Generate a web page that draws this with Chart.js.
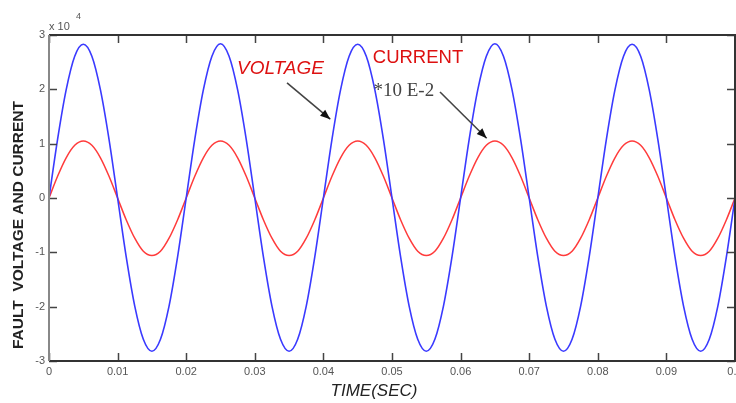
<!DOCTYPE html>
<html>
<head>
<meta charset="utf-8">
<script src="https://cdn.jsdelivr.net/npm/chart.js@4/dist/chart.umd.min.js"></script>
<style>
html,body{margin:0;padding:0;background:#fff;overflow:hidden;}
#c{display:block;}
</style>
</head>
<body>
<canvas id="c" width="736" height="403"></canvas>
<script>
// time (s)
const timeSec = [
 0, 0.00125, 0.0025, 0.00375, 0.005, 0.00625, 0.0075, 0.00875,
 0.01, 0.01125, 0.0125, 0.01375, 0.015, 0.01625, 0.0175, 0.01875,
 0.02, 0.02125, 0.0225, 0.02375, 0.025, 0.02625, 0.0275, 0.02875,
 0.03, 0.03125, 0.0325, 0.03375, 0.035, 0.03625, 0.0375, 0.03875,
 0.04, 0.04125, 0.0425, 0.04375, 0.045, 0.04625, 0.0475, 0.04875,
 0.05, 0.05125, 0.0525, 0.05375, 0.055, 0.05625, 0.0575, 0.05875,
 0.06, 0.06125, 0.0625, 0.06375, 0.065, 0.06625, 0.0675, 0.06875,
 0.07, 0.07125, 0.0725, 0.07375, 0.075, 0.07625, 0.0775, 0.07875,
 0.08, 0.08125, 0.0825, 0.08375, 0.085, 0.08625, 0.0875, 0.08875,
 0.09, 0.09125, 0.0925, 0.09375, 0.095, 0.09625, 0.0975, 0.09875,
 0.1
];
// fault voltage (x10^4)
const voltage = [
 0, 1.08, 1.99, 2.61, 2.83, 2.61, 1.99, 1.08, 0, -1.08, -1.99, -2.60, -2.82, -2.60, -1.99, -1.08,
 0, 1.08, 1.99, 2.61, 2.84, 2.61, 1.99, 1.08, 0, -1.08, -1.99, -2.60, -2.82, -2.60, -1.99, -1.08,
 0, 1.08, 1.99, 2.61, 2.83, 2.61, 1.99, 1.08, 0, -1.08, -1.99, -2.60, -2.82, -2.60, -1.99, -1.08,
 0, 1.08, 1.99, 2.61, 2.84, 2.61, 1.99, 1.08, 0, -1.08, -1.99, -2.60, -2.82, -2.60, -1.99, -1.08,
 0, 1.08, 1.99, 2.61, 2.83, 2.61, 1.99, 1.08, 0, -1.08, -1.99, -2.60, -2.82, -2.60, -1.99, -1.08,
 0
];
// fault current (x10^4, shown *10E-2)
const current = [
 0, 0.40, 0.74, 0.97, 1.05, 0.97, 0.74, 0.40, 0, -0.40, -0.74, -0.98, -1.06, -0.98, -0.74, -0.40,
 0, 0.40, 0.74, 0.97, 1.05, 0.97, 0.74, 0.40, 0, -0.40, -0.74, -0.98, -1.06, -0.98, -0.74, -0.40,
 0, 0.40, 0.74, 0.97, 1.05, 0.97, 0.74, 0.40, 0, -0.40, -0.74, -0.98, -1.06, -0.98, -0.74, -0.40,
 0, 0.40, 0.74, 0.97, 1.05, 0.97, 0.74, 0.40, 0, -0.40, -0.74, -0.98, -1.06, -0.98, -0.74, -0.40,
 0, 0.40, 0.74, 0.97, 1.05, 0.97, 0.74, 0.40, 0, -0.40, -0.74, -0.98, -1.06, -0.98, -0.74, -0.40,
 0
];
const xTickLabels = ['0','0.01','0.02','0.03','0.04','0.05','0.06','0.07','0.08','0.09','0.1'];
const yTickLabels = {'3':'3','2':'2','1':'1','0':'0','-1':'-1','-2':'-2','-3':'-3'};

const voltagePts = timeSec.map((t, i) => ({x: t, y: voltage[i]}));
const currentPts = timeSec.map((t, i) => ({x: t, y: current[i]}));

const frame = {
  id: 'frame',
  afterDraw(chart) {
    const {ctx, chartArea: a, scales: {x, y}} = chart;
    ctx.save();
    // inward ticks
    ctx.strokeStyle = '#444';
    ctx.lineWidth = 1.5;
    const tl = 8;
    ctx.beginPath();
    x.ticks.forEach(t => {
      const px = Math.round(x.getPixelForValue(t.value)) + 0.5;
      ctx.moveTo(px, a.bottom); ctx.lineTo(px, a.bottom - tl);
      ctx.moveTo(px, a.top); ctx.lineTo(px, a.top + tl);
    });
    y.ticks.forEach(t => {
      const py = Math.round(y.getPixelForValue(t.value)) + 0.5;
      ctx.moveTo(a.left, py); ctx.lineTo(a.left + tl, py);
      ctx.moveTo(a.right, py); ctx.lineTo(a.right - tl, py);
    });
    ctx.stroke();
    // frame
    ctx.lineWidth = 2;
    ctx.strokeStyle = '#333';
    ctx.beginPath();
    ctx.moveTo(a.left, a.top); ctx.lineTo(a.right, a.top); ctx.lineTo(a.right, a.bottom); ctx.lineTo(a.left, a.bottom);
    ctx.stroke();
    ctx.strokeStyle = '#888';
    ctx.beginPath();
    ctx.moveTo(a.left, a.top); ctx.lineTo(a.left, a.bottom);
    ctx.stroke();

    // exponent
    ctx.fillStyle = '#555';
    ctx.font = '11px Arial, "Liberation Sans", sans-serif';
    ctx.textAlign = 'left'; ctx.textBaseline = 'alphabetic';
    ctx.fillText('x 10', a.left, a.top - 5);
    ctx.font = '9px Arial, "Liberation Sans", sans-serif';
    ctx.fillText('4', a.left + 27, a.top - 16);

    // axis titles
    ctx.fillStyle = '#222';
    ctx.font = 'italic 17px Arial, "Liberation Sans", sans-serif';
    ctx.textAlign = 'center'; ctx.textBaseline = 'middle';
    ctx.fillText('TIME(SEC)', 374, 391);
    ctx.save();
    ctx.translate(19, 225);
    ctx.rotate(-Math.PI / 2);
    ctx.font = 'bold 15.5px Arial, "Liberation Sans", sans-serif';
    ctx.fillText('FAULT  VOLTAGE AND CURRENT', 0, 0);
    ctx.restore();

    // annotations
    const P = (vx, vy) => [x.getPixelForValue(vx), y.getPixelForValue(vy)];
    ctx.fillStyle = '#dd1111';
    ctx.textAlign = 'left'; ctx.textBaseline = 'alphabetic';
    ctx.font = 'italic 19px Arial, "Liberation Sans", sans-serif';
    let [tx, ty] = P(0.0274, 2.28);
    ctx.fillText('VOLTAGE', tx, ty);
    ctx.font = '18.5px Arial, "Liberation Sans", sans-serif';
    [tx, ty] = P(0.0472, 2.48);
    ctx.fillText('CURRENT', tx, ty);
    ctx.fillStyle = '#444';
    ctx.font = '19px "Liberation Serif", "Times New Roman", serif';
    [tx, ty] = P(0.0473, 1.88);
    ctx.fillText('*10 E-2', tx, ty);

    const arrow = (x0, y0, x1, y1) => {
      ctx.strokeStyle = '#444';
      ctx.lineWidth = 1.6;
      ctx.beginPath(); ctx.moveTo(x0, y0); ctx.lineTo(x1, y1); ctx.stroke();
      const ang = Math.atan2(y1 - y0, x1 - x0);
      const L = 10, W = 4;
      ctx.fillStyle = '#111';
      ctx.beginPath();
      ctx.moveTo(x1, y1);
      ctx.lineTo(x1 - L * Math.cos(ang) + W * Math.sin(ang), y1 - L * Math.sin(ang) - W * Math.cos(ang));
      ctx.lineTo(x1 - L * Math.cos(ang) - W * Math.sin(ang), y1 - L * Math.sin(ang) + W * Math.cos(ang));
      ctx.closePath(); ctx.fill();
    };
    let [a0, b0] = P(0.0347, 2.12), [a1, b1] = P(0.0410, 1.45);
    arrow(a0, b0, a1, b1);
    [a0, b0] = P(0.0570, 1.95); [a1, b1] = P(0.0638, 1.10);
    arrow(a0, b0, a1, b1);
    ctx.restore();
  }
};

new Chart(document.getElementById('c'), {
  type: 'line',
  data: {
    datasets: [
      {label: 'Voltage', data: voltagePts, borderColor: '#3a3aff', borderWidth: 1.6, pointRadius: 0, cubicInterpolationMode: 'monotone', fill: false},
      {label: 'Current', data: currentPts, borderColor: '#ff3b3b', borderWidth: 1.5, pointRadius: 0, cubicInterpolationMode: 'monotone', fill: false}
    ]
  },
  options: {
    responsive: false,
    animation: false,
    events: [],
    layout: {padding: {left: 0, top: 35, right: 1, bottom: 0}},
    plugins: {legend: {display: false}, tooltip: {enabled: false}, title: {display: false}},
    scales: {
      x: {
        type: 'linear', min: 0, max: 0.1,
        grid: {display: false, drawTicks: false},
        border: {display: false},
        ticks: {
          stepSize: 0.01, padding: 4, maxRotation: 0, autoSkip: false,
          color: '#555', font: {family: 'Arial, "Liberation Sans", sans-serif', size: 11},
          callback: (v, i) => xTickLabels[i]
        },
        afterFit(s) { s.height = 42; s.paddingLeft = 0; s.paddingRight = 0; }
      },
      y: {
        type: 'linear', min: -3, max: 3,
        grid: {display: false, drawTicks: false},
        border: {display: false},
        ticks: {
          stepSize: 1, padding: 4,
          color: '#555', font: {family: 'Arial, "Liberation Sans", sans-serif', size: 11},
          callback: v => yTickLabels[String(v)]
        },
        afterFit(s) { s.width = 49; s.paddingTop = 0; s.paddingBottom = 0; }
      }
    }
  },
  plugins: [frame]
});
</script>
</body>
</html>
